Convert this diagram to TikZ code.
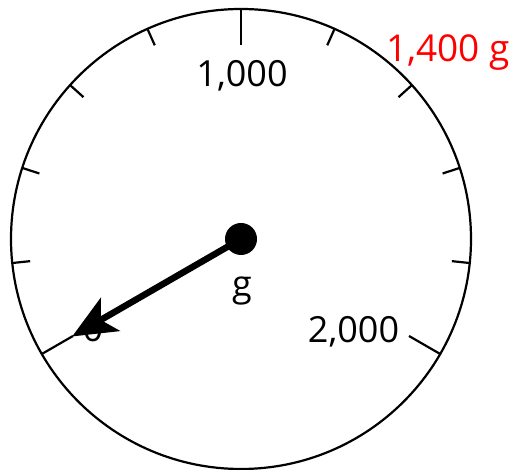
\documentclass[tikz,border=0pt]{standalone}
\usepackage{fontspec}
\setmainfont{Open Sans}
\usetikzlibrary{arrows.meta}
\definecolor{DialInk}{HTML}{000000}
\definecolor{ReadRed}{HTML}{FF0000}
\tikzset{
  dialrim/.style={draw=DialInk,line width=2.2pt},
  minortick/.style={draw=DialInk,line width=2.2pt},
  majortick/.style={draw=DialInk,line width=2.2pt},
  hubdot/.style={circle,fill=DialInk,minimum size=32pt,inner sep=0pt},
  scalelabel/.style={
    font=\fontsize{36}{43}\selectfont,text=DialInk,
    anchor=base,inner sep=0pt
  },
  readlabel/.style={
    font=\fontsize{37}{44}\selectfont,text=ReadRed,
    anchor=base west,inner sep=0pt
  },
  needle/.style={
    draw=DialInk,line width=6.5pt,
    -{Stealth[length=44pt,width=38pt,inset=11pt]}
  },
}

\begin{document}
\begin{tikzpicture}[x=1pt,y=1pt]
  \useasboundingbox (0,0) rectangle (513,470);
  \coordinate (c) at (241,231);
  \draw[dialrim] (c) circle (230pt);
  \draw[majortick] ([shift={(210:230pt)}]c) -- ([shift={(210:194pt)}]c);
  \draw[minortick] ([shift={(186:230pt)}]c) -- ([shift={(186:212pt)}]c);
  \draw[minortick] ([shift={(162:230pt)}]c) -- ([shift={(162:212pt)}]c);
  \draw[minortick] ([shift={(138:230pt)}]c) -- ([shift={(138:212pt)}]c);
  \draw[minortick] ([shift={(114:230pt)}]c) -- ([shift={(114:212pt)}]c);
  \draw[majortick] ([shift={(90:230pt)}]c) -- ([shift={(90:194pt)}]c);
  \draw[minortick] ([shift={(66:230pt)}]c) -- ([shift={(66:212pt)}]c);
  \draw[minortick] ([shift={(42:230pt)}]c) -- ([shift={(42:212pt)}]c);
  \draw[minortick] ([shift={(18:230pt)}]c) -- ([shift={(18:212pt)}]c);
  \draw[minortick] ([shift={(-6:230pt)}]c) -- ([shift={(-6:212pt)}]c);
  \draw[majortick] ([shift={(-30:230pt)}]c) -- ([shift={(-30:194pt)}]c);
  \node[scalelabel] (lbl0) at (93,128) {0};
  \node[scalelabel] (lbl1000) at (242,383) {1,000};
  \node[scalelabel] (lbl2000) at (353.5,127) {2,000};
  \node[scalelabel] (lblunit) at (242,173) {g};
  \node[readlabel] (reading) at (386,408) {1,400 g};
  \coordinate (tip) at ([shift={(210:195pt)}]c);
  \draw[needle] (c) -- (tip);
  \node[hubdot] (hub) at (c) {};
\end{tikzpicture}
\end{document}
